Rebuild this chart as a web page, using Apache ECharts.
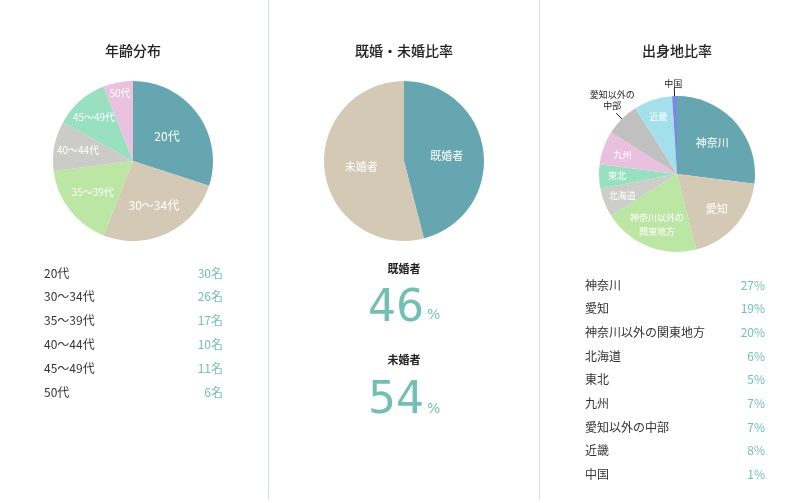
<!DOCTYPE html>
<html>
<head>
<meta charset="utf-8">
<script src="https://cdn.jsdelivr.net/npm/echarts@6/dist/echarts.min.js"></script>
<style>
html,body{margin:0;padding:0;background:#fff;}
#chart{width:808px;height:503px;}
</style>
</head>
<body>
<div id="chart"></div>
<script>
// ---- data ----
const ageCategories = ['20代', '30〜34代', '35〜39代', '40〜44代', '45〜49代', '50代'];
const ageValues = [30, 26, 17, 10, 11, 6];
const ageUnit = '名';

const maritalCategories = ['既婚者', '未婚者'];
const maritalValues = [46, 54];

const originCategories = ['神奈川', '愛知', '神奈川以外の関東地方', '北海道', '東北', '九州', '愛知以外の中部', '近畿', '中国'];
const originLabels = ['神奈川', '愛知', '神奈川以外の\n関東地方', '北海道', '東北', '九州', '愛知以外の\n中部', '近畿', '中国'];
const originValues = [27, 19, 20, 6, 5, 7, 7, 8, 1];

const titles = ['年齢分布', '既婚・未婚比率', '出身地比率'];

// ---- styles ----
const FONT = '"Noto Sans CJK JP", "Noto Sans", sans-serif';
const ageColors = ['#65a6b0', '#d4c9b5', '#bce6a3', '#cbcbc8', '#98e0bf', '#eac1de'];
const maritalColors = ['#65a6b0', '#d4c9b5'];
const originColors = ['#65a6b0', '#d4c9b5', '#bce6a3', '#cdcdc9', '#98e0c0', '#e9c1df', '#c0c0c0', '#a3e0ec', '#7a8ae0'];
const TEAL_TEXT = '#74bfb3';

// label radial distances (styling)
const ageLabelDist = [42, 49, 51, 56, 59, 69];
const maritalLabelDist = [43, 43];
const originLabelDist = [47, 53, 54, 59, 60, 58, 0, 60, 0];

const chart = echarts.init(document.getElementById('chart'), null, {renderer: 'canvas'});

function txt(x, y, text, font, fill, align, valign) {
  return {
    type: 'text', x: x, y: y, silent: true,
    style: {
      text: text, font: font, fill: fill,
      align: align || 'left', textAlign: align || 'left',
      verticalAlign: valign || 'middle', textVerticalAlign: valign || 'middle'
    }
  };
}

const graphics = [];
graphics.push({type: 'line', silent: true, shape: {x1: 268.5, y1: 0, x2: 268.5, y2: 500}, style: {stroke: '#d6e0e0', lineWidth: 1}});
graphics.push({type: 'line', silent: true, shape: {x1: 539.5, y1: 0, x2: 539.5, y2: 500}, style: {stroke: '#d6e0e0', lineWidth: 1}});
const titleX = [133, 404, 677];
titles.forEach((t, i) => graphics.push(txt(titleX[i], 51, t, '500 14px ' + FONT, '#222', 'center')));
ageCategories.forEach((c, i) => {
  const y = 273 + i * 23.8;
  graphics.push(txt(44, y, c, '12px ' + FONT, '#333', 'left'));
  graphics.push(txt(223, y, ageValues[i] + ageUnit, '12px ' + FONT, TEAL_TEXT, 'right'));
});
originCategories.forEach((c, i) => {
  const y = 285 + i * 23.7;
  graphics.push(txt(585, y, c, '12px ' + FONT, '#333', 'left'));
  graphics.push(txt(765, y, originValues[i] + '%', '12px ' + FONT, TEAL_TEXT, 'right'));
});
const maritalLabelY = [269, 360];
const maritalNumY = [310, 402];
const maritalPctY = [315, 409];
maritalCategories.forEach((c, i) => {
  graphics.push(txt(404, maritalLabelY[i], c, 'bold 11px ' + FONT, '#222', 'center'));
  graphics.push(txt(424, maritalNumY[i], String(maritalValues[i]), '44px "DejaVu Sans"', TEAL_TEXT, 'right'));
  graphics.push(txt(427, maritalPctY[i], '%', '14px "DejaVu Sans"', TEAL_TEXT, 'left'));
});

function pieData(cats, vals, colors) {
  return cats.map((c, i) => ({name: c, value: vals[i], itemStyle: {color: colors[i]}}));
}

function radialLayout(center, dists) {
  return function (params) {
    const d = dists[params.dataIndex];
    if (!d) return {};
    const r = params.labelRect;
    const cx = r.x + r.width / 2, cy = r.y + r.height / 2;
    const vx = cx - center[0], vy = cy - center[1];
    const len = Math.sqrt(vx * vx + vy * vy) || 1;
    return {
      x: center[0] + vx / len * d,
      y: center[1] + vy / len * d,
      align: 'center', verticalAlign: 'middle'
    };
  };
}

const ageLabelSize = [12, 12, 10, 10, 10, 10];
const originLabelSize = [11, 11, 9, 9, 9, 9, 9, 9, 9];
const outsideOrigin = [6, 8];
const ageCenter = [133, 161], marCenter = [404, 161], oriCenter = [677, 174];

const option = {
  animation: false,
  graphic: graphics,
  series: [
    {
      type: 'pie', center: ageCenter, radius: [0, 80], silent: true,
      label: {show: false}, labelLine: {show: false},
      data: pieData(ageCategories, ageValues, ageColors)
    },
    {
      type: 'pie', center: ageCenter, radius: [22, 80], silent: true,
      itemStyle: {color: 'transparent'},
      label: {show: true, position: 'inside', color: '#fff', fontFamily: FONT},
      labelLine: {show: false},
      data: ageCategories.map((c, i) => ({name: c, value: ageValues[i], label: {fontSize: ageLabelSize[i]}})),
      labelLayout: radialLayout(ageCenter, ageLabelDist)
    },
    {
      type: 'pie', center: marCenter, radius: [0, 80], silent: true,
      label: {show: false}, labelLine: {show: false},
      data: pieData(maritalCategories, maritalValues, maritalColors)
    },
    {
      type: 'pie', center: marCenter, radius: [6, 80], silent: true,
      itemStyle: {color: 'transparent'},
      label: {show: true, position: 'inside', color: '#fff', fontSize: 11, fontFamily: FONT},
      labelLine: {show: false},
      data: maritalCategories.map((c, i) => ({name: c, value: maritalValues[i]})),
      labelLayout: radialLayout(marCenter, maritalLabelDist)
    },
    {
      type: 'pie', center: oriCenter, radius: [0, 78], silent: true,
      label: {show: false}, labelLine: {show: false},
      data: pieData(originCategories, originValues, originColors)
    },
    {
      type: 'pie', center: oriCenter, radius: [18, 78], silent: true,
      itemStyle: {color: 'transparent'},
      avoidLabelOverlap: false,
      label: {show: true, position: 'inside', color: '#fff', fontFamily: FONT, lineHeight: 14,
        formatter: (p) => originLabels[p.dataIndex]},
      labelLine: {show: false},
      data: originCategories.map((c, i) => {
        const d = {name: c, value: originValues[i], label: {fontSize: originLabelSize[i]}};
        if (outsideOrigin.indexOf(i) >= 0) {
          d.label = {position: 'outside', color: '#222', fontSize: 9, lineHeight: 11};
          d.labelLine = {show: true, length: 8, length2: 0, lineStyle: {color: '#222', width: 1}};
        }
        return d;
      }),
      labelLayout: function (params) {
        if (outsideOrigin.indexOf(params.dataIndex) < 0) {
          return radialLayout(oriCenter, originLabelDist)(params);
        }
        const pts = params.labelLinePoints;
        if (!pts) return {};
        const p0 = pts[0], p1 = pts[1];
        const dx = p0[0] - p1[0], dy = p0[1] - p1[1];
        const len = Math.sqrt(dx * dx + dy * dy) || 1;
        const inner = [p0[0] + dx / len * 8, p0[1] + dy / len * 8];
        return {
          x: p1[0] - (params.dataIndex === 6 ? 4 : 1),
          y: p1[1] + (params.dataIndex === 6 ? -2 : 1),
          align: 'center',
          verticalAlign: 'bottom',
          labelLinePoints: [inner, p1, p1]
        };
      }
    }
  ]
};
chart.setOption(option);
</script>
</body>
</html>
